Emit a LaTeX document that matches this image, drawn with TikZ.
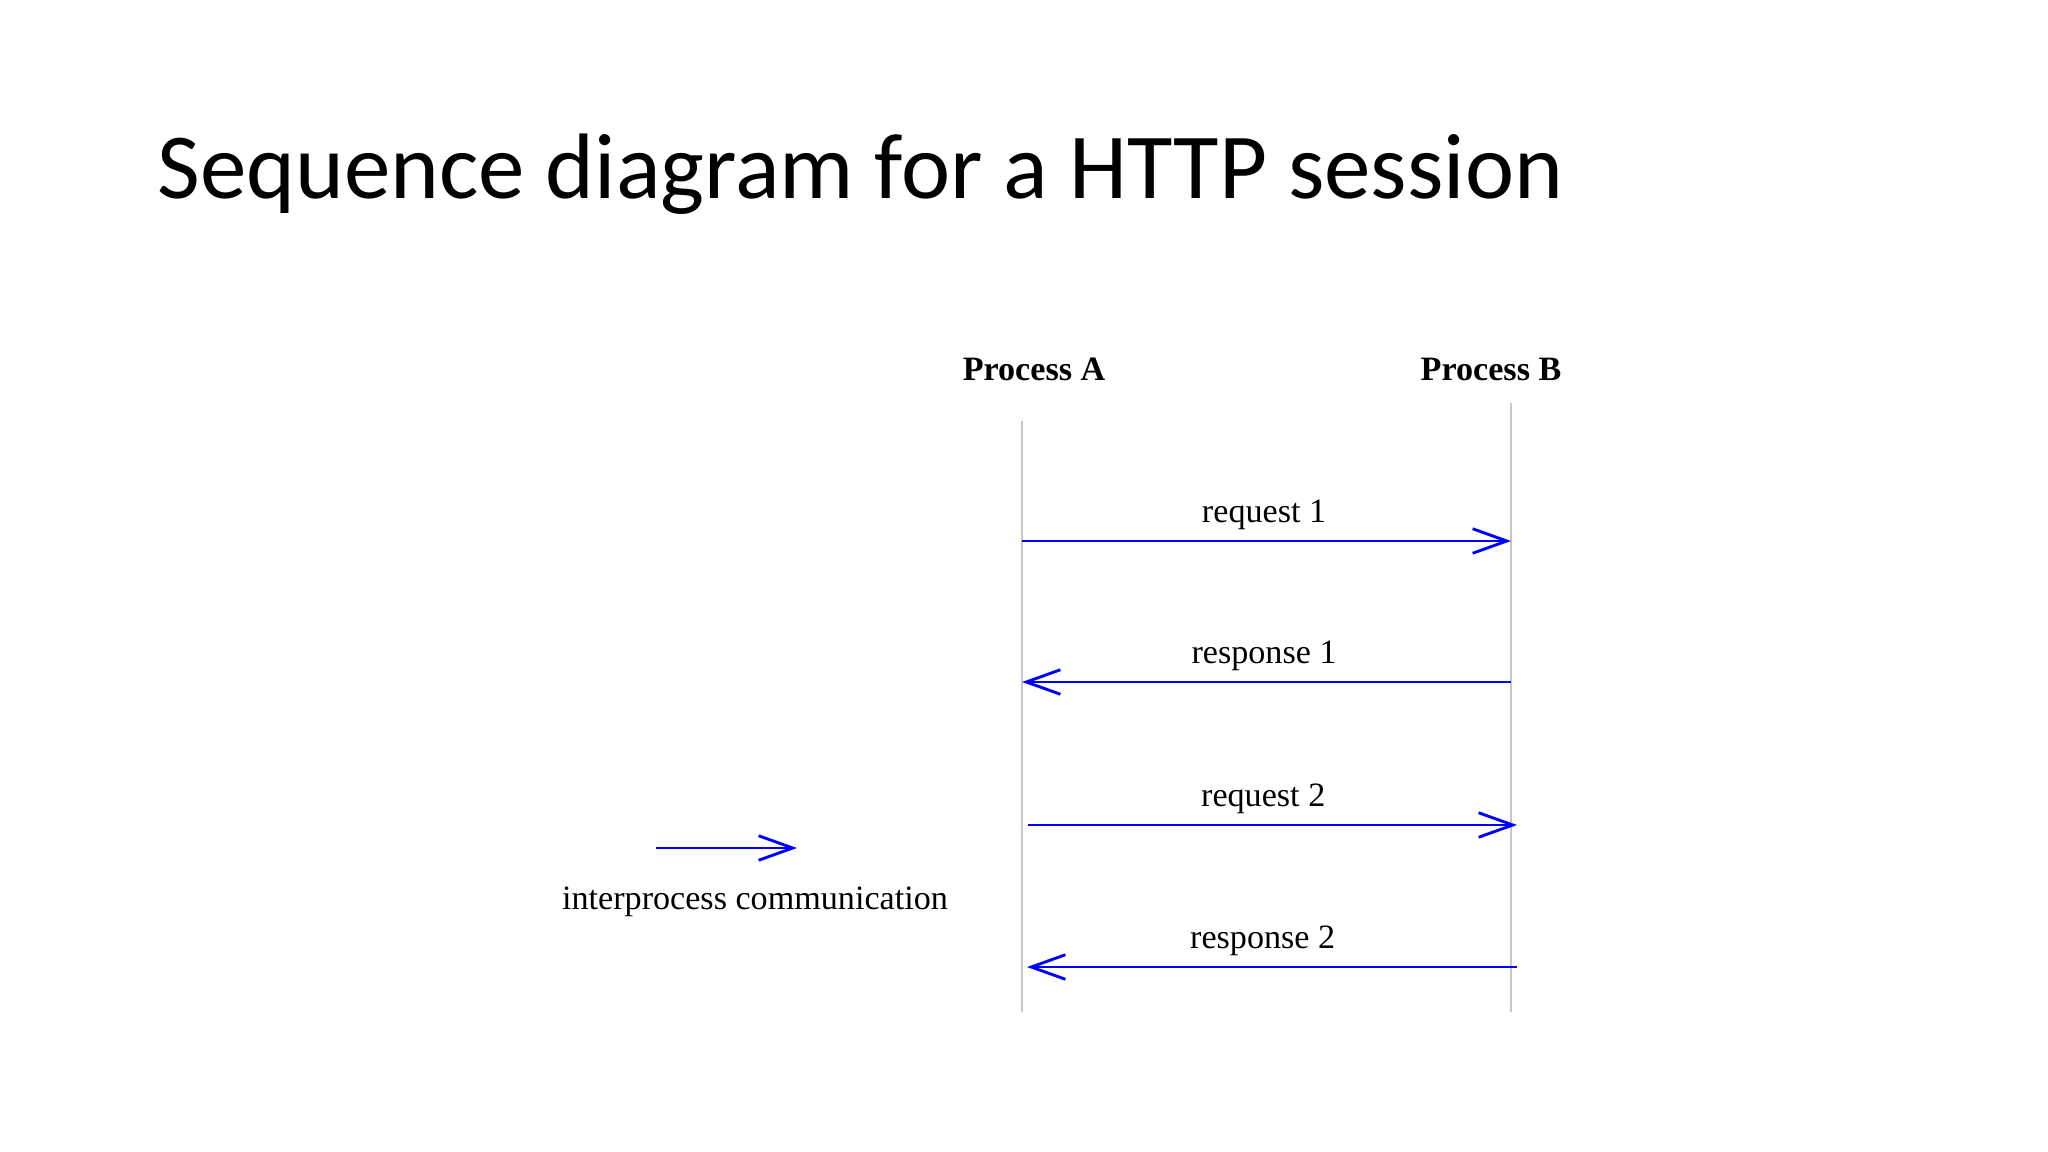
\documentclass[tikz,border=0pt]{standalone}
\usepackage{fontspec}
\setmainfont{Liberation Serif}
\newfontfamily\titlefont{Carlito}
\usetikzlibrary{arrows.meta,positioning}

\begin{document}
\begin{tikzpicture}[
            x=0.46875pt,y=0.46875pt,
            proc/.style={
              font=\fontsize{16}{19}\selectfont\bfseries,
              anchor=base,
              inner sep=0pt
            },
            life/.style={
              draw=black!22,
              line width=0.5pt
            },
            msg/.style={
              draw=blue,
              line width=1.35pt,
              -{Straight Barb[length=16pt,width=11.5pt]}
            },
            lbl/.style={
              font=\fontsize{16}{19}\selectfont,
              above,
              inner sep=4.6pt
            }
            ]
            \useasboundingbox (0,0) rectangle (2048,-1152);
            
            \node[anchor=base west,inner sep=0pt,font=\titlefont\fontsize{43.6}{52}\selectfont] 
              (title) at (157,-199) {Sequence diagram for a HTTP session};
            
            \node[proc] (procA) at (1034,-380) {Process A};
            \node[proc] (procB) at (1491,-380) {Process B};
            
            % lifelines
            \coordinate (atop) at (1022,-421);
            \coordinate (abot) at (1022,-1012);
            \coordinate (btop) at (1511,-403);
            \coordinate (bbot) at (1511,-1012);
            \draw[life] (atop) -- (abot);
            \draw[life] (btop) -- (bbot);
            
            % messages
            \coordinate (a1) at (1022,-541);
            \coordinate (b1) at (1511,-541);
            \coordinate (a2) at (1022,-682);
            \coordinate (b2) at (1511,-682);
            \coordinate (a3) at (1028,-825);
            \coordinate (b3) at (1517,-825);
            \coordinate (a4) at (1027,-967);
            \coordinate (b4) at (1517,-967);
            
            \draw[msg] (a1) -- node[lbl,pos=0.495] (req1) {request 1} (b1);
            \draw[msg] (b2) -- node[lbl,pos=0.505] (resp1) {response 1} (a2);
            \draw[msg] (a3) -- node[lbl,pos=0.481] (req2) {request 2} (b3);
            \draw[msg] (b4) -- node[lbl,pos=0.519] (resp2) {response 2} (a4);
            
            % legend
            \coordinate (key1) at (656,-848);
            \coordinate (key2) at (797,-848);
            \draw[msg] (key1) -- (key2);
            \node[font=\fontsize{16}{19}\selectfont,anchor=base] (keytext) at (755,-909) 
              {interprocess\ communication};
            \end{tikzpicture}
\end{document}
